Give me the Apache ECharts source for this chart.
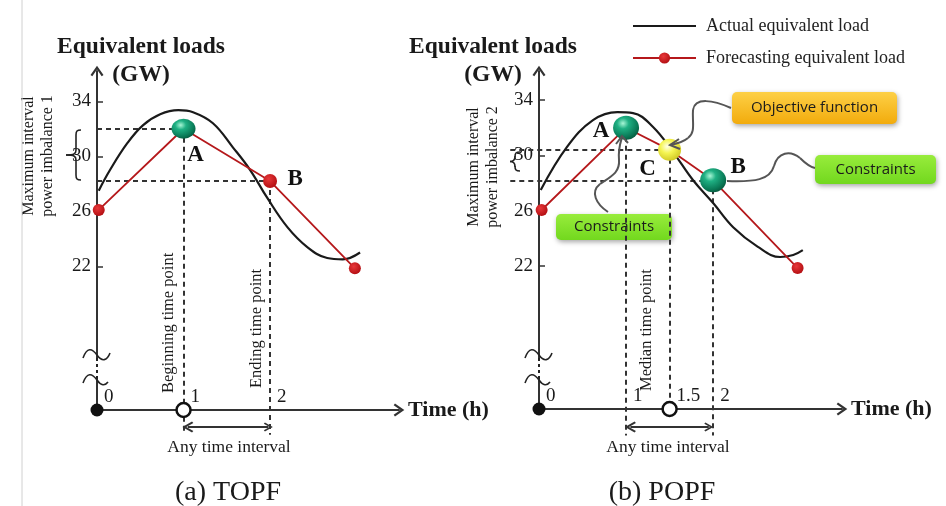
<!DOCTYPE html>
<html>
<head>
<meta charset="utf-8">
<script src="https://cdn.jsdelivr.net/npm/echarts@6/dist/echarts.min.js"></script>
<style>
html, body { margin: 0; padding: 0; background: #fff; }
#main { width: 946px; height: 506px; }
</style>
</head>
<body>
<div id="main"></div>
<script>
// ---- data (time in h, load in GW) ----
const nameActual = 'Actual equivalent load';
const nameForecast = 'Forecasting equivalent load';

// (a) TOPF
const actualA = [[0.02, 27.5], [0.15, 29.0], [0.35, 30.95], [0.53, 32.25], [0.73, 33.05], [0.94, 33.35],
    [1.11, 33.2], [1.34, 32.4], [1.57, 30.65], [1.77, 29.0], [1.97, 26.95], [2.2, 24.85],
    [2.43, 23.4], [2.66, 22.6], [2.84, 22.5], [3.04, 23.0]];
const forecastA = [[0.02, 26.1], [1, 32.0], [2, 28.2], [2.98, 21.85]];
const pointA_A = [1, 32.0];
const pointB_A = [2, 28.2];
const xTicksA = [0, 1, 2];
const openTimeA = 1;

// (b) POPF
const actualB = [[0.02, 27.5], [0.32, 30.6], [0.62, 32.55], [0.9, 33.13], [1.08, 33.06], [1.31, 32.05],
    [1.54, 30.24], [1.77, 28.2], [2.0, 26.55], [2.23, 24.8], [2.51, 23.4], [2.77, 22.65],
    [2.92, 22.8], [3.03, 23.15]];
const forecastB = [[0.03, 26.05], [1, 32.0], [1.5, 30.4], [2, 28.2], [2.97, 21.85]];
const pointA_B = [1, 32.0];
const pointC_B = [1.5, 30.4];
const pointB_B = [2, 28.2];
const xTicksB = [0, 1, 1.5, 2];
const openTimeB = 1.5;

const yTicks = [22, 26, 30, 34];

// axis extents
const yMinA = 11.55, yMaxA = 36.2, xMaxA = 3.49;
const yMinB = 11.66, yMaxB = 36.1, xMaxB = 3.48;
const yBelow = 9.75;          // where the vertical guides stop under the time axis
const guideStartB = -0.33;    // horizontal guides of (b) start left of the axis
const intervalA = [1.05, 1.98], intervalB = [1.05, 1.95];
const intervalY_A = 10.31, intervalY_B = 10.36;

const serif = '"Liberation Serif", "DejaVu Serif", serif';
const sans = '"Open Sans", "Noto Sans", sans-serif';
const ink = '#1a1a1a';
const chevron = 'path://M50,0 L100,72 L86,82 L50,30 L14,82 L0,72 Z';

const teal = {
    type: 'radial', x: 0.38, y: 0.32, r: 0.75,
    colorStops: [{offset: 0, color: '#a8f6d6'}, {offset: 0.3, color: '#1fb083'},
        {offset: 0.75, color: '#0a7a57'}, {offset: 1, color: '#065339'}]
};
const yellow = {
    type: 'radial', x: 0.4, y: 0.35, r: 0.75,
    colorStops: [{offset: 0, color: '#ffffe8'}, {offset: 0.4, color: '#f5f552'}, {offset: 1, color: '#c9bf1c'}]
};
const redDot = {
    type: 'radial', x: 0.4, y: 0.35, r: 0.7,
    colorStops: [{offset: 0, color: '#e8383a'}, {offset: 1, color: '#b00c10'}]
};

let chart = echarts.init(document.getElementById('main'));

function xAxisOf(grid, xMax, ticks) {
    return {
        type: 'value', gridIndex: grid, min: 0, max: xMax,
        name: 'Time (h)', nameLocation: 'end', nameGap: 9,
        nameTextStyle: {fontFamily: serif, fontWeight: 'bold', fontSize: 22, color: ink},
        axisLine: {onZero: false, symbol: ['none', chevron], symbolSize: [13, 12],
            lineStyle: {color: '#333', width: 2}},
        axisTick: {show: false},
        splitLine: {show: false},
        axisLabel: {inside: true, customValues: ticks, margin: 3, align: 'left', padding: [0, 0, 0, 7],
            fontFamily: serif, fontSize: 19, color: ink}
    };
}

function yAxisOf(grid, yMin, yMax, shift) {
    return {
        type: 'value', gridIndex: grid, min: yMin, max: yMax,
        name: 'Equivalent loads\n(GW)', nameLocation: 'end', nameGap: -18,
        nameTextStyle: {fontFamily: serif, fontWeight: 'bold', fontSize: 23.5, lineHeight: 28, color: ink,
            align: 'center', verticalAlign: 'bottom',
            padding: shift > 0 ? [0, 0, 0, shift * 2] : [0, -shift * 2, 0, 0]},
        axisLine: {onZero: false, symbol: ['none', chevron], symbolSize: [13, 12],
            lineStyle: {color: '#333', width: 2}},
        axisTick: {inside: true, length: 6, customValues: yTicks, lineStyle: {color: '#333', width: 1.5}},
        splitLine: {show: false},
        axisLabel: {customValues: yTicks, margin: 6, fontFamily: serif, fontSize: 19, color: ink}
    };
}

function guideLines(idx, list) {
    return {
        type: 'lines', coordinateSystem: 'cartesian2d', xAxisIndex: idx, yAxisIndex: idx,
        clip: false, silent: true, z: 2,
        lineStyle: {color: '#333', width: 2, type: [5, 4], opacity: 1},
        data: list.map(c => ({coords: c}))
    };
}

function intervalArrow(idx, xs, y) {
    return {
        type: 'lines', coordinateSystem: 'cartesian2d', xAxisIndex: idx, yAxisIndex: idx,
        clip: false, silent: true, z: 2,
        symbol: [chevron, chevron], symbolSize: [11, 9],
        lineStyle: {color: '#333', width: 1.8, opacity: 1},
        data: [{coords: [[xs[0], y], [xs[1], y]]}]
    };
}

function timeMarks(idx, yMin, openX) {
    return {
        type: 'scatter', xAxisIndex: idx, yAxisIndex: idx, clip: false, silent: true, z: 6,
        data: [
            {value: [0, yMin], symbolSize: 13, itemStyle: {color: '#111', opacity: 1}},
            {value: [openX, yMin], symbolSize: 14, itemStyle: {color: '#fff', borderColor: '#111', borderWidth: 2.5, opacity: 1}}
        ]
    };
}

const labelFont = {fontFamily: serif, fontWeight: 'bold', fontSize: 23, color: '#111'};

const guidesA = [
    [[0, pointA_A[1]], pointA_A], [[0, pointB_A[1]], pointB_A],
    [pointA_A, [pointA_A[0], yBelow]], [pointB_A, [pointB_A[0], yBelow]]
];
const guidesB = [
    [[guideStartB, pointC_B[1]], pointC_B], [[guideStartB, pointB_B[1]], pointB_B],
    [pointA_B, [pointA_B[0], yBelow]], [pointC_B, [pointC_B[0], yMinB]], [pointB_B, [pointB_B[0], yBelow]]
];

let option = {
    animation: false,
    backgroundColor: '#fff',
    legend: {
        data: [{name: nameActual, itemStyle: {opacity: 0}}, {name: nameForecast}],
        orient: 'vertical', left: 627, top: 12,
        itemWidth: 63, itemHeight: 14, itemGap: 14, selectedMode: false,
        textStyle: {fontFamily: serif, fontSize: 18, color: '#222', padding: [0, 0, 0, 5]}
    },
    grid: [
        {left: 97, top: 71, width: 302, height: 339, outerBoundsMode: 'none', containLabel: false},
        {left: 539, top: 71, width: 303, height: 338, outerBoundsMode: 'none', containLabel: false}
    ],
    xAxis: [xAxisOf(0, xMaxA, xTicksA), xAxisOf(1, xMaxB, xTicksB)],
    yAxis: [yAxisOf(0, yMinA, yMaxA, 44), yAxisOf(1, yMinB, yMaxB, -46)],
    series: [
        guideLines(0, guidesA),
        guideLines(1, guidesB),
        intervalArrow(0, intervalA, intervalY_A),
        intervalArrow(1, intervalB, intervalY_B),
        {
            name: nameActual, type: 'line', xAxisIndex: 0, yAxisIndex: 0, data: actualA,
            smooth: 0.4, symbol: 'none', clip: false, z: 3,
            lineStyle: {color: '#1a1a1a', width: 2.2}, itemStyle: {color: '#1a1a1a'}
        },
        {
            name: nameActual, type: 'line', xAxisIndex: 1, yAxisIndex: 1, data: actualB,
            smooth: 0.4, symbol: 'none', clip: false, z: 3,
            lineStyle: {color: '#1a1a1a', width: 2.2}, itemStyle: {color: '#1a1a1a'}
        },
        {
            name: nameForecast, type: 'line', xAxisIndex: 0, yAxisIndex: 0, clip: false, z: 4,
            data: forecastA.map((p, i) => i === 2
                ? {value: p, symbolSize: 14, label: {show: true, formatter: 'B', position: 'inside', offset: [25, -2], ...labelFont}}
                : {value: p}),
            symbol: 'circle', symbolSize: 12, showAllSymbol: true,
            lineStyle: {color: '#b5181b', width: 1.8}, itemStyle: {color: redDot}
        },
        {
            name: nameForecast, type: 'line', xAxisIndex: 1, yAxisIndex: 1, data: forecastB, clip: false, z: 4,
            symbol: 'circle', symbolSize: 12, showAllSymbol: true,
            lineStyle: {color: '#b5181b', width: 1.8}, itemStyle: {color: redDot}
        },
        timeMarks(0, yMinA, openTimeA),
        timeMarks(1, yMinB, openTimeB),
        {
            type: 'scatter', xAxisIndex: 0, yAxisIndex: 0, clip: false, silent: true, z: 7,
            data: [{value: pointA_A, symbolSize: [24, 20], itemStyle: {color: teal, opacity: 1},
                label: {show: true, formatter: 'A', position: 'inside', offset: [12, 26], ...labelFont}}]
        },
        {
            type: 'scatter', xAxisIndex: 1, yAxisIndex: 1, clip: false, silent: true, z: 7,
            data: [
                {value: pointA_B, symbolSize: [26, 24], itemStyle: {color: teal, opacity: 1},
                    label: {show: true, formatter: 'A', position: 'inside', offset: [-25, 3], ...labelFont}},
                {value: pointC_B, symbolSize: [23, 22], itemStyle: {color: yellow, opacity: 1},
                    label: {show: true, formatter: 'C', position: 'inside', offset: [-22, 19], ...labelFont}},
                {value: pointB_B, symbolSize: [26, 24], itemStyle: {color: teal, opacity: 1},
                    label: {show: true, formatter: 'B', position: 'inside', offset: [25, -13], ...labelFont}}
            ]
        }
    ]
};
chart.setOption(option);

// ---- decorations: breaks, braces, rotated notes, callouts ----
function text(x, y, s, size) {
    return {type: 'text', x: x, y: y, silent: true, z: 20,
        style: {text: s, fontFamily: serif, fontSize: size, fill: ink, align: 'center', verticalAlign: 'middle'}};
}
function vtext(x, y, s, size, align) {
    return {type: 'text', x: x, y: y, rotation: Math.PI / 2, silent: true, z: 20,
        style: {text: s, fontFamily: serif, fontSize: size, fill: ink, align: align, verticalAlign: 'middle', lineHeight: 19}};
}
function bez(p, style, z) {
    return {type: 'bezierCurve', silent: true, z: z || 21,
        shape: {x1: p[0], y1: p[1], cpx1: p[2], cpy1: p[3], cpx2: p[4], cpy2: p[5], x2: p[6], y2: p[7]},
        style: Object.assign({fill: null}, style)};
}
function seg(x1, y1, x2, y2, style) {
    return {type: 'line', silent: true, z: 21, shape: {x1, y1, x2, y2}, style: style};
}
const pen = {stroke: '#222', lineWidth: 1.6};
function axisBreak(x) {
    return [
        {type: 'rect', shape: {x: x - 3, y: 358, width: 6, height: 21}, style: {fill: '#fff'}, z: 20, silent: true},
        seg(x, 358, x, 379, {stroke: '#222', lineWidth: 2, lineDash: [3, 3]}),
        bez([x - 14, 358, x - 10, 347, x - 5, 348, x, 355], pen),
        bez([x, 355, x + 5, 362, x + 10, 361, x + 13, 353], pen),
        bez([x - 14, 383, x - 10, 372, x - 5, 373, x, 380], pen),
        bez([x, 380, x + 4, 386, x + 8, 386, x + 11, 382], pen)
    ];
}
function brace(x, yTop, yBot, tipX) {
    const ym = (yTop + yBot) / 2, bx = x - 5;
    return [
        bez([x, yTop, bx + 1, yTop, bx, yTop + 1, bx, yTop + 5], pen),
        seg(bx, yTop + 5, bx, ym - 5, pen),
        bez([bx, ym - 5, bx, ym - 1, bx - 2, ym, tipX, ym], pen),
        bez([tipX, ym, bx - 2, ym, bx, ym + 1, bx, ym + 5], pen),
        seg(bx, ym + 5, bx, yBot - 5, pen),
        bez([bx, yBot - 5, bx, yBot - 1, bx + 1, yBot, x, yBot], pen)
    ];
}
function callout(x, y, w, h, s, c1, c2) {
    return {type: 'group', z: 30, silent: true, children: [
        {type: 'rect', shape: {x: x, y: y, width: w, height: h, r: 5},
            style: {fill: {type: 'linear', x: 0, y: 0, x2: 0, y2: 1,
                colorStops: [{offset: 0, color: c1}, {offset: 1, color: c2}]},
                shadowBlur: 5, shadowOffsetX: 1, shadowOffsetY: 2, shadowColor: 'rgba(0,0,0,0.35)'}},
        {type: 'text', x: x + w / 2, y: y + h / 2,
            style: {text: s, fontFamily: sans, fontSize: 15, fill: '#1b1b1b', align: 'center', verticalAlign: 'middle'}}
    ]};
}
const conn = {stroke: '#555', lineWidth: 2};

let graphics = [
    seg(22, 0, 22, 506, {stroke: '#d0d0d0', lineWidth: 1}),
    ...axisBreak(97),
    ...axisBreak(539),
    ...brace(81, 130, 180, 66),
    ...brace(520, 152, 171, 510),
    vtext(38, 156, 'Maximum interval\npower imbalance 1', 16, 'center'),
    vtext(483, 167, 'Maximum interval\npower imbalance 2', 16, 'center'),
    vtext(169, 393, 'Beginning time point', 16.5, 'left'),
    vtext(257, 388, 'Ending time point', 16.5, 'left'),
    vtext(647, 391, 'Median time point', 16.5, 'left'),
    text(229, 447, 'Any time interval', 17.5),
    text(668, 447, 'Any time interval', 17.5),
    text(228, 493, '(a) TOPF', 28),
    text(662, 493, '(b) POPF', 28),
    callout(732, 92, 165, 32, 'Objective function', '#fdd046', '#f2ab0c'),
    callout(815, 155, 121, 29, 'Constraints', '#98ec3c', '#72d81e'),
    callout(556, 214, 116, 26, 'Constraints', '#98ec3c', '#72d81e'),
    bez([731, 108, 713, 100, 695, 97, 693, 110], conn, 25),
    bez([693, 110, 692, 122, 696, 132, 688, 138], conn, 25),
    bez([688, 138, 682, 143, 676, 144, 670, 145], conn, 25),
    {type: 'polyline', shape: {points: [[679, 139], [670, 145], [680, 149]]}, style: Object.assign({fill: null}, conn), silent: true, z: 25},
    bez([727, 181, 755, 182, 770, 180, 774, 166], conn, 25),
    bez([774, 166, 778, 152, 790, 150, 800, 158], conn, 25),
    bez([800, 158, 806, 164, 810, 167, 815, 168], conn, 25),
    bez([608, 212, 596, 204, 590, 192, 600, 184], conn, 25),
    bez([600, 184, 612, 176, 620, 172, 619, 160], conn, 25),
    bez([619, 160, 618, 150, 620, 144, 622, 137], conn, 25),
    {type: 'polyline', shape: {points: [[616, 144], [622, 136], [628, 143]]}, style: Object.assign({fill: null}, conn), silent: true, z: 25}
];
chart.setOption({graphic: graphics});
</script>
</body>
</html>
